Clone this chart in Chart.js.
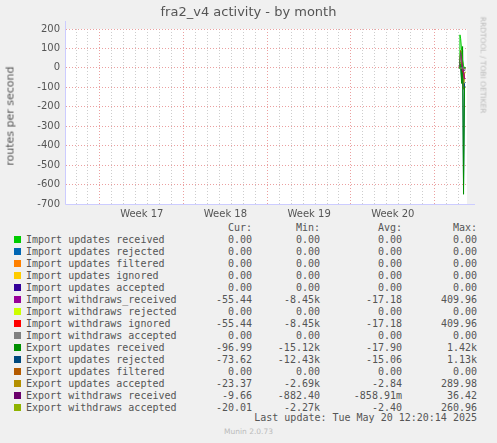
<!DOCTYPE html>
<html><head><meta charset="utf-8">
<script src="https://cdn.jsdelivr.net/npm/chart.js@4"></script>
<style>
body{margin:0;background:#f0f0f0;width:497px;height:443px;overflow:hidden;position:relative;font-family:"DejaVu Sans",sans-serif}
#c{position:absolute;left:0;top:0}
.t{position:absolute;color:#555}
#leg{position:absolute;left:0;top:222px;font-family:"DejaVu Sans Mono",monospace;font-size:10px;color:#555;border-collapse:collapse}
#leg td{padding:0;height:12px;line-height:12px;white-space:pre}
.sw{display:inline-block;width:7px;height:7px;margin:0 5px 0 0}
</style></head><body>
<canvas id="c" width="497" height="222"></canvas>
<div class="t" style="left:0;width:497px;top:4px;text-align:center;font-size:13px">fra2_v4 activity - by month</div>
<div class="t" style="left:10px;top:116px;font-size:11px;transform:translate(-50%,-50%) rotate(-90deg);white-space:nowrap">routes per second</div>
<div class="t" style="left:483px;top:65px;font-size:7.5px;color:#bbb;transform:translate(-50%,-50%) rotate(90deg);white-space:nowrap">RRDTOOL / TOBI OETIKER</div>
<div id="legwrap"></div>
<div class="t" style="right:20px;top:412px;font-family:'DejaVu Sans Mono',monospace;font-size:10px">Last update: Tue May 20 12:20:14 2025</div>
<div class="t" style="left:0;width:497px;top:427px;text-align:center;font-size:7.5px;color:#bbb">Munin 2.0.73</div>
<script>
const names=["Import updates received","Import updates rejected","Import updates filtered","Import updates ignored","Import updates accepted","Import withdraws_received","Import withdraws rejected","Import withdraws ignored","Import withdraws accepted","Export updates received","Export updates rejected","Export updates filtered","Export updates accepted","Export withdraws received","Export withdraws accepted"];
const colors=["#00cc00","#0066b3","#ff8000","#ffcc00","#330099","#990099","#ccff00","#ff0000","#808080","#008f00","#00487d","#b35a00","#b38f00","#6b006b","#8fb300"];
const cur=["0.00","0.00","0.00","0.00","0.00","-55.44","0.00","-55.44","0.00","-96.99","-73.62","0.00","-23.37","-9.66","-20.01"];
const mins=["0.00","0.00","0.00","0.00","0.00","-8.45k","0.00","-8.45k","0.00","-15.12k","-12.43k","0.00","-2.69k","-882.40","-2.27k"];
const avgs=["0.00","0.00","0.00","0.00","0.00","-17.18","0.00","-17.18","0.00","-17.90","-15.06","0.00","-2.84","-858.91m","-2.40"];
const maxs=["0.00","0.00","0.00","0.00","0.00","409.96","0.00","409.96","0.00","1.42k","1.13k","0.00","289.98","36.42","260.96"];
// time positions (days from left edge) and series values
const xs=[32.9,32.96,33.02,33.1,33.18,33.26,33.34,33.42];
const vals=[
[0,170,150,90,40,10,0,0],[0,0,0,0,0,0,0,0],[0,0,0,0,0,0,0,0],[0,0,0,0,0,0,0,0],[0,0,0,0,0,0,0,0],
[0,0,80,60,-10,-20,-55,-55],[0,0,0,0,0,0,0,0],[0,0,90,70,-10,-30,-55,-55],[0,0,0,0,0,0,0,0],
[0,0,20,-80,110,-650,-100,-97],[0,0,10,-60,90,-600,-80,-74],[0,0,0,0,0,0,0,0],
[0,0,20,-20,30,-110,-30,-23],[0,0,5,-5,10,-20,-10,-10],[0,0,30,10,-40,-100,-25,-20]];
const weekLabels=["Week 17","Week 18","Week 19","Week 20"];
const off=2.84;

let h='<table id="leg"><tr><td></td><td></td><td style="text-align:right;width:226px">Cur:</td><td style="text-align:right;width:68px">Min:</td><td style="text-align:right;width:82px">Avg:</td><td style="text-align:right;width:75px">Max:</td></tr>';
names.forEach((n,i)=>{h+=`<tr><td style="width:26px;text-align:right"><span class="sw" style="background:${colors[i]}"></span></td><td style="width:0;max-width:0;overflow:visible">${n}</td><td style="text-align:right">${cur[i]}</td><td style="text-align:right">${mins[i]}</td><td style="text-align:right">${avgs[i]}</td><td style="text-align:right">${maxs[i]}</td></tr>`;});
h+='</table>';
document.getElementById('legwrap').innerHTML=h;

const near=(a)=>Math.abs(a-Math.round(a))<1e-4;
const isWeek=v=>near((v-off)/7);
const isDay=v=>near(v-off);
new Chart(document.getElementById('c'),{
 type:'line',
 data:{datasets:names.map((n,i)=>({label:n,data:xs.map((x,j)=>({x:x,y:vals[i][j]})),borderColor:colors[i],borderWidth:1,pointRadius:0,fill:false,tension:0}))},
 options:{responsive:false,animation:false,
  layout:{padding:{left:0,right:30,top:29,bottom:0}},
  plugins:{legend:{display:false},tooltip:{enabled:false}},
  scales:{
   x:{type:'linear',min:0,max:33.55,
    afterFit(s){s.height=18;},
    afterBuildTicks(s){const t=[];for(let k=0;k<70;k++){const v=off-2+0.5*k;if(v<=33.5)t.push({value:v});}s.ticks=t;},
    border:{display:false,dash:[1,2]},
    grid:{drawTicks:false,color(c){const v=c.tick.value;if(isWeek(v))return 'rgb(235,160,160)';if(isDay(v))return 'rgb(205,205,205)';return 'rgba(0,0,0,0)';},lineWidth:1},
    ticks:{autoSkip:false,maxRotation:0,padding:4,color:'#555',font:{size:10,family:'DejaVu Sans'},
     callback(v){const k=(v-off-3.5)/7;if(near(k)&&k>-0.5&&k<3.5)return weekLabels[Math.round(k)];return '';}}},
   y:{min:-700,max:200,
    afterFit(s){s.width=66;},
    afterBuildTicks(s){const t=[];for(let v=-700;v<=200;v+=50)t.push({value:v});s.ticks=t;},
    border:{display:false,dash:[1,2]},
    grid:{drawTicks:false,color(c){return c.tick.value%100===0?'rgb(235,160,160)':'rgb(205,205,205)';}},
    ticks:{padding:6,color:'#555',font:{size:10,family:'DejaVu Sans'},callback(v){return v%100===0?v:'';}}}
  }},
 plugins:[{id:'bg',beforeDraw(ch){const a=ch.chartArea,x=ch.ctx;x.save();x.fillStyle='#fff';x.fillRect(a.left,a.top,a.right-a.left,a.bottom-a.top);x.restore();},
  afterDraw(ch){const a=ch.chartArea,x=ch.ctx;x.save();x.strokeStyle='#ccccff';x.lineWidth=1;x.beginPath();x.moveTo(a.left-0.5,a.top-8);x.lineTo(a.left-0.5,a.bottom+0.5);x.lineTo(a.right+8,a.bottom+0.5);x.stroke();x.restore();}}]
});
</script></body></html>
